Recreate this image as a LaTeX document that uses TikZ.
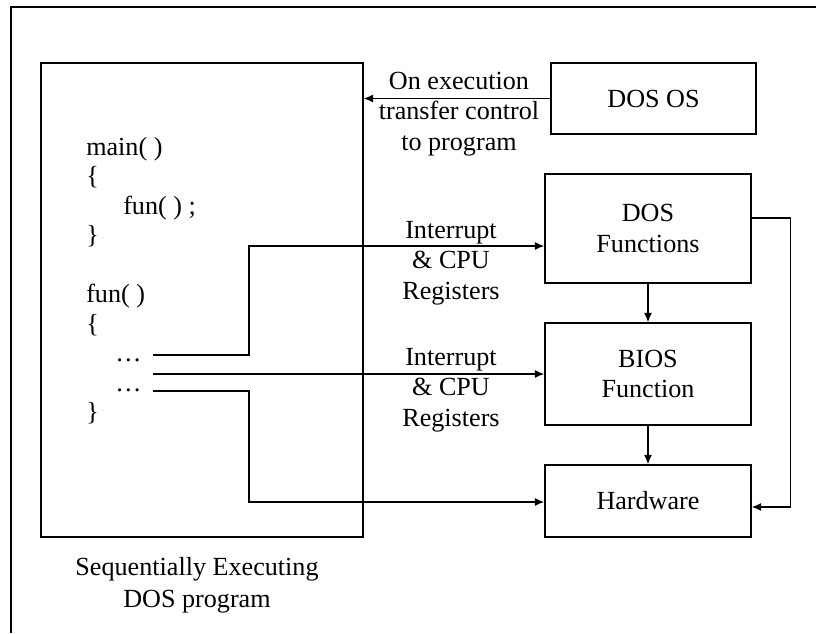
\documentclass[tikz,border=0pt]{standalone}
\usepackage{fontspec}
\setmainfont{Liberation Serif}
\usepackage{tikz}
\usetikzlibrary{arrows.meta,positioning,calc}

\begin{document}
\begin{tikzpicture}[
    x=0.75pt, y=-0.75pt,
    every node/.style={font=\fontsize{19.6pt}{23pt}\selectfont},
    box/.style={rectangle, draw, line width=1.1pt, align=center, inner sep=0pt},
    code/.style={anchor=base west, inner sep=0pt},
    arrow/.style={->, >={Latex[length=7pt,width=6pt]}, line width=1pt}
]
\useasboundingbox (0,0) rectangle (816,633);

% Outer frame
\draw[line width=1.1pt] (816,7) -- (11,7) -- (11,633);

% Program box
\node[box, minimum width=241.5pt, minimum height=355.5pt] (prog) at (202,300) {};
\node[align=center, font=\fontsize{19.6pt}{24pt}\selectfont] (prog-label) at (197,585) {Sequentially Executing\\DOS program};

% Program code
\node[code] (main) at (86,155) {main( )};
\node[code] (main-open) at (86,184.5) {\{};
\node[code] (main-call) at (123,214) {fun( ) ;};
\node[code] (main-close) at (86,243.5) {\}};
\node[code] (fun) at (86,302.5) {fun( )};
\node[code] (fun-open) at (86,332) {\{};
\node[code] (fun-dots1) at (115,361.5) {…};
\node[code] (fun-dots2) at (115,391) {…};
\node[code] (fun-close) at (86,420.5) {\}};

\coordinate (call-dos) at (153,355);
\coordinate (call-bios) at (153,374);
\coordinate (call-hw) at (153,391);
\coordinate (bend-dos) at (249,246);
\coordinate (bend-hw) at (249,502);

% System side
\node[box, minimum width=153.75pt, minimum height=53.25pt] (dosos) at (653.5,98.5) {DOS OS};
\node[box, minimum width=154.5pt, minimum height=81.75pt] (dosfun) at (648,228.5) {DOS\\Functions};
\node[box, minimum width=154.5pt, minimum height=76.5pt] (bios) at (648,374) {BIOS\\Function};
\node[box, minimum width=154.5pt, minimum height=54pt] (hw) at (648,501) {Hardware};

% Arrow labels
\node[align=center] (exec-label) at (459,114) {On execution\\transfer control\\to program};
\node[align=center] (dos-label) at (451,263) {Interrupt\\\& CPU\\Registers};
\node[align=center] (bios-label) at (451,390) {Interrupt\\\& CPU\\Registers};

% Arrows
\draw[arrow] (dosos.west) -- (dosos.west -| prog.east);
\draw[arrow] (call-dos) -| (bend-dos) -- (bend-dos -| dosfun.west);
\draw[arrow] (call-bios) -- (call-bios -| bios.west);
\draw[arrow] (call-hw) -| (bend-hw) -- (bend-hw -| hw.west);
\draw[arrow] (dosfun) -- (bios);
\draw[arrow] (bios) -- (hw);
\draw[arrow] ([yshift=7.9pt]dosfun.east) -- ++(39,0) |- ([yshift=-4.5pt]hw.east);

\end{tikzpicture}
\end{document}
